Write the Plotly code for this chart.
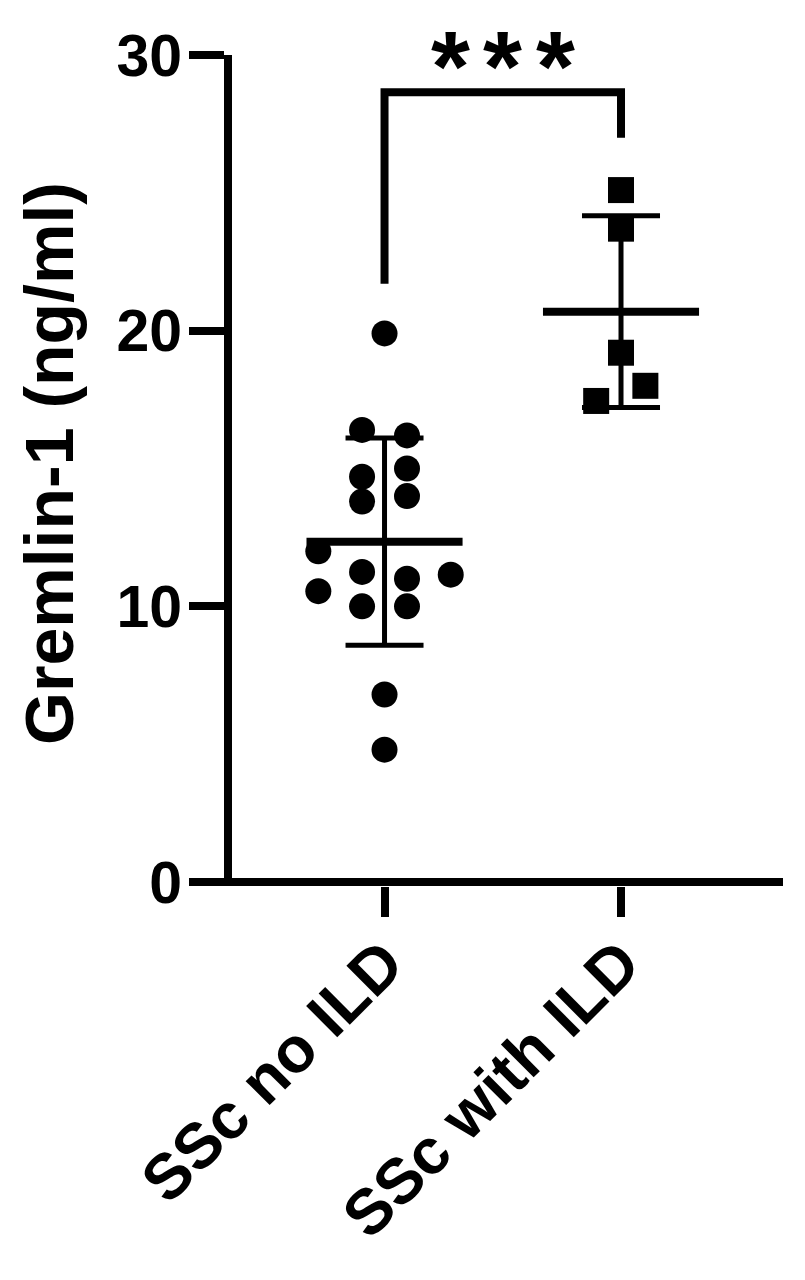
import numpy as np
import plotly.graph_objects as go

# Gremlin-1 (ng/ml) per patient
groups = ["SSc no ILD", "SSc with ILD"]
no_ild = [19.9, 16.4, 16.2, 14.7, 15.0, 13.8, 14.0, 12.0, 11.25, 11.15,
          11.0, 10.55, 10.0, 10.0, 6.8, 4.8]
with_ild = [25.1, 23.7, 19.2, 18.0, 17.45]
sig_label = "***"

# horizontal scatter of the dots within each column (layout only)
jitter_no = [0, -0.095, 0.095, -0.095, 0.095, -0.095, 0.095, -0.28, -0.095,
             0.28, 0.095, -0.28, -0.095, 0.095, 0, 0]
jitter_with = [0, 0, 0, 0.103, -0.105]

# bracket: left foot, top, right foot
bracket_y = [21.7, 28.65, 28.65, 27.0]
star_dx = [-0.222, 0, 0.222]

FONT = "Liberation Sans, Arial, sans-serif"
black = "black"

fig = go.Figure()

series = [(0, no_ild, jitter_no, "circle"), (1, with_ild, jitter_with, "square")]
for pos, vals, jit, sym in series:
    vals = np.array(vals)
    m = vals.mean()
    sd = vals.std(ddof=1)
    # SD whiskers
    fig.add_trace(go.Scatter(
        x=[pos], y=[m], mode="markers",
        marker=dict(size=1, color="rgba(0,0,0,0)"),
        error_y=dict(type="data", array=[sd], symmetric=True,
                     color=black, thickness=5, width=39),
        showlegend=False, hoverinfo="skip",
    ))
    # mean line
    fig.add_trace(go.Scatter(
        x=[pos - 0.33, pos + 0.33], y=[m, m], mode="lines",
        line=dict(color=black, width=8), showlegend=False,
    ))
    # individual values
    fig.add_trace(go.Scatter(
        x=[pos + j for j in jit], y=vals, mode="markers",
        marker=dict(symbol=sym, size=26, color=black, line=dict(width=0)),
        showlegend=False,
    ))

# significance bracket
fig.add_trace(go.Scatter(
    x=[0, 0, 1, 1], y=bracket_y, mode="lines",
    line=dict(color=black, width=8), showlegend=False,
))
for ch, dx in zip(sig_label, star_dx):
    fig.add_annotation(
        text=ch, xref="x", yref="paper", x=0.5 + dx, y=1.0555,
        xanchor="center", yanchor="top", showarrow=False, borderpad=0,
        font=dict(family=FONT, size=100, color=black, weight="bold"),
    )

fig.add_annotation(
    text="Gremlin-1 (ng/ml)", textangle=-90,
    xref="paper", yref="paper", x=-0.332, y=0.508,
    xanchor="center", yanchor="middle", showarrow=False,
    font=dict(family=FONT, size=68, color=black, weight="bold"),
)

fig.update_layout(
    width=797, height=1272,
    margin=dict(l=224, r=22, t=47, b=394, autoexpand=False),
    plot_bgcolor="white", paper_bgcolor="white",
    font=dict(family=FONT, color=black),
    xaxis=dict(
        range=[-0.645, 1.685], tickvals=[0, 1], ticktext=groups,
        tickangle=-45, tickfont=dict(size=64, weight="bold"),
        showline=False,
        ticks="outside", ticklen=30, tickwidth=8, tickcolor=black,
        showgrid=False, zeroline=False, ticklabelstandoff=-17,
        automargin=False,
    ),
    yaxis=dict(
        range=[-0.145, 30], tickvals=[0, 10, 20, 30],
        tickfont=dict(size=59, weight="bold"),
        showline=True, linewidth=8, linecolor=black,
        ticks="outside", ticklen=35, tickwidth=8, tickcolor=black,
        showgrid=False, zeroline=True, zerolinewidth=8, zerolinecolor=black,
        ticklabelstandoff=-5, automargin=False,
    ),
)

fig.write_html("out.html")
